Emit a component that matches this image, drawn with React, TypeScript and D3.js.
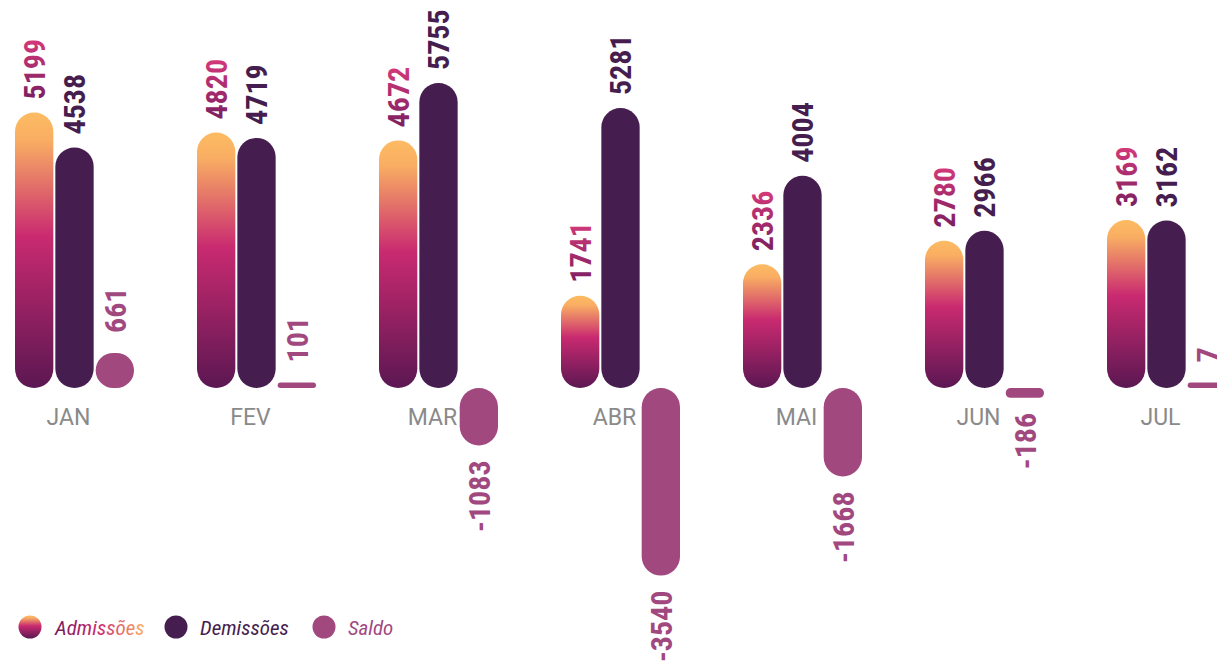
import React from "react";
import * as d3 from "d3";

const months = ["JAN", "FEV", "MAR", "ABR", "MAI", "JUN", "JUL"];
const admissoes = [5199, 4820, 4672, 1741, 2336, 2780, 3169];
const demissoes = [4538, 4719, 5755, 5281, 4004, 2966, 3162];
const saldo = [661, 101, -1083, -3540, -1668, -186, 7];
const seriesKeys = ["adm", "dem", "saldo"];
const legendLabels = ["Admissões", "Demissões", "Saldo"];

const W = 1217;
const H = 663;
const C_DEM = "#451d4f";
const C_SALDO = "#a1487f";
const LABEL_FONT = "'Liberation Sans Narrow', 'Roboto Condensed', 'DejaVu Sans Condensed', Roboto, sans-serif";

export default function App() {
  const x0 = d3.scaleBand<string>().domain(months).range([15, 15 + 182 * months.length]).padding(0).align(0);
  const x1 = d3.scaleBand<string>().domain(seriesKeys).range([0, 119]).paddingInner(0.05).paddingOuter(0);
  const y = d3.scaleLinear().domain([0, 5755]).range([388, 83]);
  const bw = x1.bandwidth();
  const MIN_H = 5.5;

  const bar = (v: number) => {
    let h = Math.abs(y(v) - y(0));
    if (h < MIN_H) h = MIN_H;
    const top = v >= 0 ? y(0) - h : y(0);
    return { top, h, bottom: top + h };
  };

  const rows = months.map((m, i) => ({ m, vals: [admissoes[i], demissoes[i], saldo[i]] }));

  return (
    <svg width={W} height={H} style={{ position: "absolute", left: 0, top: 0, background: "#fff" }}>
      <defs>
        <linearGradient id="admGrad" x1="0" y1="0" x2="0" y2="1">
          <stop offset="0" stopColor="#fdbb62" />
          <stop offset="0.1" stopColor="#f9ae63" />
          <stop offset="0.45" stopColor="#c92a70" />
          <stop offset="1" stopColor="#5b1752" />
        </linearGradient>
        <linearGradient id="admLabelGrad" x1="0" y1="0" x2="1" y2="0">
          <stop offset="0" stopColor="#7a1f60" />
          <stop offset="1" stopColor="#d4397a" />
        </linearGradient>
        <linearGradient id="legTextGrad" x1="0" y1="0" x2="1" y2="0">
          <stop offset="0" stopColor="#6e1a5a" />
          <stop offset="0.5" stopColor="#c92a70" />
          <stop offset="1" stopColor="#fbb062" />
        </linearGradient>
      </defs>

      {/* month labels */}
      {rows.map((r) => (
        <text
          key={"m" + r.m}
          x={(x0(r.m) as number) + (x1("dem") as number) + bw / 2 - 6}
          y={425}
          textAnchor="middle"
          fontFamily="Roboto, sans-serif"
          fontSize={23}
          fill="#8a8a8a"
        >
          {r.m}
        </text>
      ))}

      {/* bars */}
      {rows.map((r) => (
        <g key={"g" + r.m} transform={`translate(${x0(r.m)},0)`}>
          {r.vals.map((v, j) => {
            const k = seriesKeys[j];
            const b = bar(v);
            const fill = k === "adm" ? "url(#admGrad)" : k === "dem" ? C_DEM : C_SALDO;
            const bx = x1(k) as number;
            const rr = Math.min(bw / 2, b.h / 2);
            return (
              <rect key={k} x={bx} y={b.top} width={bw} height={b.h} rx={rr} ry={rr} fill={fill} />
            );
          })}
        </g>
      ))}

      {/* value labels */}
      {rows.map((r) => (
        <g key={"l" + r.m} transform={`translate(${x0(r.m)},0)`}>
          {r.vals.map((v, j) => {
            const k = seriesKeys[j];
            const b = bar(v);
            const cx = (x1(k) as number) + bw / 2;
            const fill = k === "adm" ? "url(#admLabelGrad)" : k === "dem" ? C_DEM : C_SALDO;
            const gap = v >= 0 ? (k === "saldo" ? 20 : 13) : 15;
            const ty = v >= 0 ? b.top - gap : b.bottom + gap;
            return (
              <text
                key={k}
                transform={`translate(${cx},${ty}) rotate(-90)`}
                textAnchor={v >= 0 ? "start" : "end"}
                dy="0.36em"
                fontFamily={LABEL_FONT}
                fontWeight="bold"
                fontSize={30}
                fill={fill}
              >
                {v}
              </text>
            );
          })}
        </g>
      ))}

      {/* legend */}
      {legendLabels.map((lab, i) => {
        const cxs = [30, 176, 324];
        const txs = [55, 200, 348];
        const fills = ["url(#admGrad)", C_DEM, C_SALDO];
        const tf = ["url(#legTextGrad)", C_DEM, C_SALDO];
        return (
          <g key={lab}>
            <circle cx={cxs[i]} cy={627} r={11.5} fill={fills[i]} />
            <text
              x={txs[i]}
              y={635}
              fontFamily="'Liberation Sans Narrow', 'Roboto Condensed', Roboto, sans-serif"
              fontStyle="italic"
              fontSize={21}
              fill={tf[i]}
            >
              {lab}
            </text>
          </g>
        );
      })}
    </svg>
  );
}
